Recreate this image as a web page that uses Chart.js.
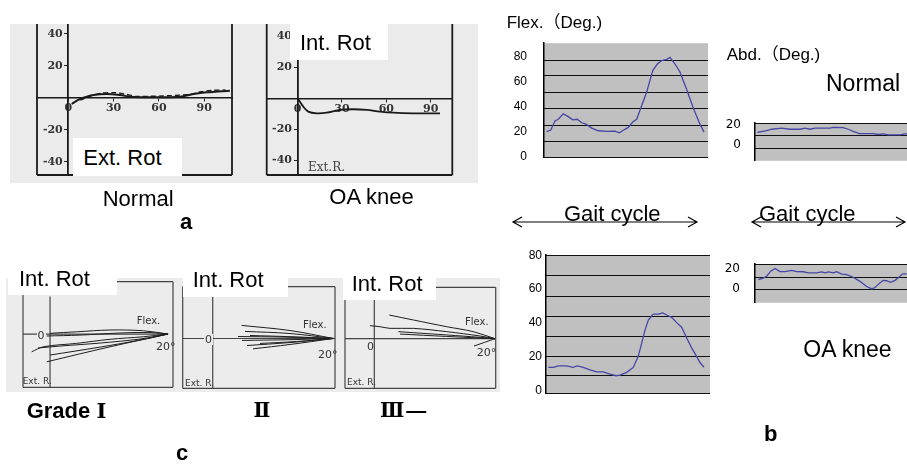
<!DOCTYPE html>
<html><head><meta charset="utf-8">
<script src="https://cdn.jsdelivr.net/npm/chart.js@4.4.1/dist/chart.umd.min.js"></script>
<style>
html,body{margin:0;padding:0;background:#fff;}
body{width:907px;height:465px;overflow:hidden;position:relative;font-family:"Liberation Sans",Arial,sans-serif;}
canvas{position:absolute;}
.t{position:absolute;white-space:nowrap;line-height:1;color:#000;font-size:22px;}
.b{font-weight:bold;}
.r{font-family:"DejaVu Serif","Noto Sans CJK JP",serif;font-weight:bold;}
.box{position:absolute;background:#fff;}
.s{position:absolute;white-space:nowrap;line-height:1;font-family:"DejaVu Sans",sans-serif;font-size:10px;color:#333;}
.z{background:#ececec;padding:0 1px;font-size:11px;}
</style></head><body>
<canvas id="aL" width="230" height="159" style="left:10px;top:24px"></canvas>
<canvas id="aR" width="238" height="159" style="left:240px;top:24px"></canvas>
<canvas id="c1" width="170" height="114" style="left:6px;top:278px"></canvas>
<canvas id="c2" width="162" height="114" style="left:176px;top:278px"></canvas>
<canvas id="c3" width="162" height="114" style="left:338px;top:278px"></canvas>
<canvas id="bTL" width="204" height="163" style="left:504px;top:19px"></canvas>
<canvas id="bTR" width="204" height="80" style="left:715px;top:102px"></canvas>
<canvas id="bBL" width="204" height="161" style="left:506px;top:244px"></canvas>
<canvas id="bBR" width="204" height="83" style="left:715px;top:242px"></canvas>

<svg style="position:absolute;left:0;top:0" width="907" height="465">
<g stroke="#000" stroke-width="1.2" fill="none">
<path d="M513 222H697 M522 217L513 222L522 227 M688 217L697 222L688 227"/>
<path d="M752 222H905 M761 217L752 222L761 227 M896 217L905 222L896 227"/>
</g></svg>

<!-- panel a -->
<div class="box" style="left:72.7px;top:138.3px;width:109px;height:37.7px"></div>
<div class="t" style="left:83.3px;top:147.4px">Ext. Rot</div>
<div class="box" style="left:290px;top:24px;width:98.3px;height:36px"></div>
<div class="t" style="left:300px;top:32.1px">Int. Rot</div>
<div class="s" style="left:308px;top:161px;font-family:'DejaVu Serif',serif;font-size:12px;color:#444">Ext.R.</div>
<div class="t" style="left:102.7px;top:188.1px">Normal</div>
<div class="t" style="left:329.3px;top:186.4px">OA knee</div>
<div class="t b" style="left:180px;top:211.4px">a</div>

<!-- panel c -->
<div class="box" style="left:8px;top:262px;width:109px;height:33px"></div>
<div class="t" style="left:19px;top:268.4px">Int. Rot</div>
<div class="box" style="left:182.7px;top:262px;width:105.3px;height:34.7px"></div>
<div class="t" style="left:192.7px;top:268.7px">Int. Rot</div>
<div class="box" style="left:342.7px;top:266px;width:93.3px;height:34px"></div>
<div class="t" style="left:351.7px;top:273.1px">Int. Rot</div>
<div class="s" style="left:136.7px;top:316px">Flex.</div>
<div class="s" style="left:156px;top:341px;font-size:11px">20°</div>
<div class="s" style="left:22.7px;top:377.2px;font-size:9px">Ext. R.</div>
<div class="s z" style="left:36.5px;top:329.7px">0</div>
<div class="s" style="left:303px;top:320px">Flex.</div>
<div class="s" style="left:318px;top:348.7px;font-size:11px">20°</div>
<div class="s" style="left:185px;top:379.2px;font-size:9px">Ext. R.</div>
<div class="s z" style="left:204px;top:333.7px">0</div>
<div class="s" style="left:465px;top:317px">Flex.</div>
<div class="s" style="left:476.7px;top:347.2px;font-size:11px">20°</div>
<div class="s" style="left:347px;top:378.2px;font-size:9px">Ext. R.</div>
<div class="s" style="left:367px;top:341.2px;font-size:11px">0</div>
<div class="t b" style="left:26.7px;top:399.7px">Grade <span class="r" style="font-size:21px">Ⅰ</span></div>
<div class="t r" style="left:242px;top:400px;width:40px;text-align:center;font-size:20px">Ⅱ</div>
<div class="t r" style="left:380px;top:400px;font-size:20px">Ⅲ<span style="font-family:'Liberation Sans',sans-serif;font-weight:bold;margin-left:2px">—</span></div>
<div class="t b" style="left:176px;top:442.4px">c</div>

<!-- panel b -->
<div class="box" style="left:540px;top:22px;width:67px;height:11px"></div>
<div class="t" style="left:506.7px;top:13.9px;font-size:17px;font-family:'Liberation Sans','Noto Sans CJK JP',sans-serif">Flex.（Deg.)</div>
<div class="t" style="left:726.7px;top:45.6px;font-size:17px;font-family:'Liberation Sans','Noto Sans CJK JP',sans-serif">Abd.（Deg.)</div>
<div class="t" style="left:826px;top:71.5px;font-size:23px">Normal</div>
<div class="t" style="left:564px;top:203.4px">Gait cycle</div>
<div class="t" style="left:759px;top:203.4px">Gait cycle</div>
<div class="t" style="left:803.3px;top:337.8px;font-size:23px">OA knee</div>
<div class="t b" style="left:764px;top:423.4px">b</div>

<script>
// ---------- Panel b : gait data (x = % of gait cycle) ----------
const flexNormalPct = [1.6,4.1,6.7,8.7,11.8,14.8,17.5,20.3,23.0,25.6,29.1,33.1,38.2,43.3,45.9,48.4,51.4,54.1,56.5,59.6,62.6,66.3,69.1,71.8,74.8,76.8,79.9,82.9,87.0,91.0,95.1,97.6];
const flexNormal    = [19.9,21.2,28.5,29.8,34.1,31.9,29.3,29.8,27.0,25.9,22.7,20.6,20.1,20.3,19.0,21.0,23.3,27.6,29.8,40.9,51.6,68.8,74.1,76.9,77.8,79.4,74.1,67.7,53.7,38.8,25.9,19.5];
const abdNormalPct  = [1.4,4.7,7.1,10.2,16.3,21.3,27.4,30.5,33.5,36.6,45.7,47.7,53.8,56.9,59.9,63.6,72.1,75.2,78.2,81.3,88.4,91.5,96];
const abdNormal     = [12.4,13.5,14.1,15.5,16.5,15.5,15.5,16.5,15.5,16.5,16.5,17.3,17.1,15.5,13.5,11.2,11.2,10.4,11.0,10.0,10.0,11.0,11.0];
const flexOAPct     = [1.4,4.5,7.5,12.6,16.3,19.1,22.7,26.8,30.9,34.9,39.0,42.7,45.1,49.2,53.2,56.3,58.4,60.4,62.4,65.4,68.5,71.2,73.6,76.6,79.7,82.7,85.8,88.8,91.9,93.9,96.3];
const flexOA        = [13.7,13.7,14.6,14.6,13.7,14.6,13.7,12.3,11.1,11.1,9.8,8.8,9.2,10.8,13.7,20.4,28.2,35.9,41.7,45.2,45.2,46.0,44.7,43.3,40.2,37.5,31.1,25.3,20.1,16.6,13.8];
const abdOAPct      = [2.0,4.7,7.1,9.6,12.2,15.2,18.3,22.4,25.4,29.5,32.5,37.6,40.7,42.7,44.7,47.7,49.8,52.9,55.9,59.9,64.0,68.1,71.2,73.2,75.8,78.2,80.3,82.7,85.4,88.4,90.1,92.5];
const abdOA         = [8.9,10.3,12.3,17.3,19.9,16.9,16.9,18.1,16.9,16.7,15.7,15.7,16.5,15.7,16.5,15.7,16.7,14.3,13.9,11.3,7.3,2.3,-0.1,1.3,5.3,8.3,7.9,6.3,8.3,12.3,14.7,14.7];
const flexTickLabels = [0,20,40,60,80];
const abdTickLabels  = [0,20];

// ---------- Panel a : rotation vs flexion ----------
const aFlexNormal  = [2.3,6.6,11.1,16.6,25.4,34.2,40.9,47.5,60.7,74,82.8,91.7,107];
const aRotNormal   = [-3.9,-1.4,0.3,1.7,2.3,1.7,0.6,0.3,0.3,0.6,2.3,3.4,4.4];
const aFlexNormal2 = [8,15,22,30,38,45,80,88,96,104];
const aRotNormal2  = [-1.5,1.2,2.8,3.2,2.2,0.8,2.0,3.8,4.6,4.8];
const aFlexOA      = [0.5,3.9,7.3,13,19.7,28.7,37.7,46.8,55.7,64.7,78.2,96.3];
const aRotOA       = [-0.6,-5.4,-8.6,-9.7,-9.3,-7.5,-7.1,-7.5,-8.6,-9.3,-9.7,-9.7];
const aXTicks = [0,30,60,90];
const aYTicks = [40,20,-20,-40];

// ---------- Panel c : rotation traces by grade (x = flexion deg) ----------
const gradeI_flex = [[120,97.4,69.2,41,20],[122.8,94.6,60.7,35.3,20],[135.5,125.7,97.4,69.2,41,20],[130.2,111.5,77.6,43.7,20],[122.8,69.2,20],[120,77.6,43.7,20]];
const gradeI_rot  = [[0.5,1.5,2.7,2.2,0],[-1.3,-0.7,0.7,1,0],[-11.8,-8.5,-6.2,-3.5,-1.8,0],[-9.3,-8,-6,-3.3,0],[-18.5,-8.5,0],[-14,-8.7,-4,0]];
const gradeII_flex = [[96,55.9,20],[93.2,55.9,20],[89.1,55.9,20],[95.7,55.9,20],[91.6,55.9,20],[86.6,55.9,20],[80.8,50,20],[99,60,20]];
const gradeII_rot  = [[8.7,5.3,0],[4.7,3.3,0],[2,1.2,0],[-1.3,-0.8,0],[-4.7,-2.7,0],[-6.9,-4,0],[-3.3,-2,0],[1.3,0.9,0]];
const gradeIII_flex = [[107.6,87.7,60,38,20],[123.6,115.3,107,87.7,60,32.4,20],[100.1,87.7,60,32.4,20],[98.7,60,20],[37.4,20]];
const gradeIII_rot  = [[15.8,12.5,8,4.7,0],[8.7,8,6.9,6.9,4.7,1.8,0],[4.7,4,2.5,0.9,0],[3.1,1.5,0],[-4.9,0]];

const el = id => document.getElementById(id);
const pts = (xs, ys) => xs.map((x, i) => ({x, y: ys[i]}));
const noPad = s => { s.paddingTop = 0; s.paddingBottom = 0; s.paddingLeft = 0; s.paddingRight = 0; };

const bgPlugin = { id: 'bg', beforeDraw(chart, args, o) {
  const c = chart.ctx, a = chart.chartArea; c.save();
  if (o.canvas) { c.fillStyle = o.canvas; c.fillRect(0, 0, chart.width, chart.height); }
  if (o.area) { c.fillStyle = o.area; c.fillRect(a.left, a.top, a.right - a.left, a.bottom - a.top); }
  c.restore(); } };

const framePlugin = { id: 'frame', beforeDatasetsDraw(chart, args, o) {
  const c = chart.ctx, a = chart.chartArea, xs = chart.scales.x, ys = chart.scales.y;
  c.save(); c.strokeStyle = o.color || '#222'; c.lineWidth = o.width || 1.5;
  (o.sides || []).forEach(sd => { c.beginPath();
    if (sd === 'l') { c.moveTo(a.left, a.top); c.lineTo(a.left, a.bottom); }
    if (sd === 'r') { c.moveTo(a.right, a.top); c.lineTo(a.right, a.bottom); }
    if (sd === 'b') { c.moveTo(a.left, a.bottom); c.lineTo(a.right, a.bottom); }
    if (sd === 't') { c.moveTo(a.left, a.top); c.lineTo(a.right, a.top); }
    c.stroke(); });
  if (o.vAxis) { const v = o.vAxis, px = xs.getPixelForValue(v.x); c.beginPath(); c.moveTo(px, ys.getPixelForValue(v.from)); c.lineTo(px, ys.getPixelForValue(v.to)); c.stroke(); }
  if (o.hAxis) { const h = o.hAxis, py = ys.getPixelForValue(h.y); c.beginPath(); c.moveTo(xs.getPixelForValue(h.from), py); c.lineTo(xs.getPixelForValue(h.to), py); c.stroke(); }
  c.restore(); } };

function gaitChart(id, xs, ys, o) {
  return new Chart(el(id), {
    type: 'line',
    data: { datasets: [{ data: pts(xs, ys), borderColor: '#4646a6', borderWidth: 1.3, pointRadius: 0, tension: 0, fill: false }] },
    options: {
      responsive: false, animation: false, events: [],
      layout: { padding: { left: 0, right: 0, top: 10, bottom: 10 } },
      plugins: { legend: { display: false }, tooltip: { enabled: false }, bg: { area: '#c0c0c0' } },
      scales: {
        x: { type: 'linear', min: 0, max: 100, display: false },
        y: { type: 'linear', position: 'left', min: o.min, max: o.max,
             afterBuildTicks: s => { s.ticks = o.labels.map(v => ({value: v})); },
             afterFit: s => { s.width = 40; },
             grid: { display: false, drawTicks: false },
             border: { display: true, color: '#000', width: 1.5 },
             ticks: { padding: o.pad, color: '#000', autoSkip: false, font: { family: o.font, size: 12 } } },
        g: { type: 'linear', position: 'right', min: o.min, max: o.max,
             afterBuildTicks: s => { s.ticks = o.grid.map(v => ({value: v})); },
             afterFit: s => { s.width = 0; },
             ticks: { display: false }, border: { display: false },
             grid: { color: '#111', lineWidth: 1, drawTicks: false } }
      }
    },
    plugins: [bgPlugin]
  });
}

gaitChart('bTL', flexNormalPct, flexNormal, { min: -1.1, max: 90.8, labels: flexTickLabels, grid: [-1.1, 11.8, 24.6, 38.1, 51.6, 64.9, 77.3], pad: 17, font: 'Liberation Sans' });
gaitChart('bTR', abdNormalPct, abdNormal, { min: -15.3, max: 21.4, labels: abdTickLabels, grid: [-3.5, 9.2, 21.4], pad: 14, font: 'DejaVu Sans' });
gaitChart('bBL', flexOAPct, flexOA, { min: -1.9, max: 80.1, labels: flexTickLabels, grid: [-1.9, 8.8, 20.4, 32.0, 43.7, 55.7, 67.9, 80.1], pad: 4, font: 'Liberation Sans' });
gaitChart('bBR', abdOAPct, abdOA, { min: -13.7, max: 24.1, labels: abdTickLabels, grid: [-1.1, 11.3, 24.1], pad: 15, font: 'DejaVu Sans' });

function scanA(id, series, o) {
  const tickFont = { family: 'DejaVu Serif', size: 11, weight: 'bold' };
  return new Chart(el(id), {
    type: 'line',
    data: { datasets: series.map(s => ({ data: pts(s.x, s.y), borderColor: '#1a1a1a', borderWidth: s.w, borderDash: s.dash || [], pointRadius: 0, tension: 0.3, fill: false })) },
    options: {
      responsive: false, animation: false, events: [],
      layout: { padding: o.pad },
      plugins: { legend: { display: false }, tooltip: { enabled: false }, bg: { canvas: '#ebebeb' }, frame: { sides: ['l', 'r', 'b'], color: '#1a1a1a', width: 1.8 } },
      scales: {
        x: { type: 'linear', position: { y: 0 }, min: o.xmin, max: o.xmax,
             afterBuildTicks: s => { s.ticks = aXTicks.map(v => ({value: v})); }, afterFit: noPad,
             grid: { drawOnChartArea: false, drawTicks: true, tickLength: 3, color: '#222' },
             border: { display: true, color: '#1a1a1a', width: 1.5 },
             ticks: { padding: 1, color: '#333', autoSkip: false, maxRotation: 0, font: tickFont } },
        y: { type: 'linear', position: { x: 0 }, min: o.ymin, max: o.ymax,
             afterBuildTicks: s => { s.ticks = aYTicks.map(v => ({value: v})); }, afterFit: noPad,
             grid: { drawOnChartArea: false, drawTicks: true, tickLength: 3, color: '#222' },
             border: { display: true, color: '#1a1a1a', width: 1.8 },
             ticks: { color: '#333', autoSkip: false, font: tickFont, callback: v => v + '\u2002' } }
      }
    },
    plugins: [bgPlugin, framePlugin]
  });
}

scanA('aL', [{ x: aFlexNormal, y: aRotNormal, w: 2 }, { x: aFlexNormal2, y: aRotNormal2, w: 1.4, dash: [5, 3] }],
  { pad: { left: 27, right: 8, top: 0, bottom: 8 }, xmin: -20.7, xmax: 108.4, ymin: -48.3, ymax: 46.1 });
scanA('aR', [{ x: aFlexOA, y: aRotOA, w: 1.8 }],
  { pad: { left: 26.7, right: 25.7, top: 0, bottom: 8 }, xmin: -20.8, xmax: 104.6, ymin: -49.5, ymax: 47.9 });

function scanC(id, xsArr, ysArr, o) {
  return new Chart(el(id), {
    type: 'line',
    data: { datasets: xsArr.map((xs, k) => ({ data: pts(xs, ysArr[k]), borderColor: '#1e1e1e', borderWidth: 1, pointRadius: 0, tension: 0.35, fill: false })) },
    options: {
      responsive: false, animation: false, events: [],
      layout: { padding: o.pad },
      plugins: { legend: { display: false }, tooltip: { enabled: false }, bg: { canvas: '#ececec' },
        frame: { sides: ['l', 'r', 'b', 't'], color: '#444', width: 1.2, vAxis: { x: 120, from: o.vTop, to: o.ymin }, hAxis: { y: 0, from: o.xmax, to: o.hEnd } } },
      scales: {
        x: { type: 'linear', reverse: true, min: o.xmin, max: o.xmax, display: false },
        y: { type: 'linear', min: o.ymin, max: o.ymax, display: false }
      }
    },
    plugins: [bgPlugin, framePlugin]
  });
}

scanC('c1', gradeI_flex, gradeI_rot, { pad: { left: 17, right: 3, top: 3.7, bottom: 4.7 }, xmin: 15.8, xmax: 142.9, ymin: -35.5, ymax: 34.9, vTop: 25, hEnd: 20 });
scanC('c2', gradeII_flex, gradeII_rot, { pad: { left: 6.7, right: 3, top: 8.7, bottom: 3.7 }, xmin: 18.6, xmax: 144.9, ymin: -33.2, ymax: 34.5, vTop: 28, hEnd: 18.6 });
scanC('c3', gradeIII_flex, gradeIII_rot, { pad: { left: 7, right: 4.3, top: 9.3, bottom: 3.7 }, xmin: 19.4, xmax: 144.3, ymin: -33.1, ymax: 34.3, vTop: 31, hEnd: 19.4 });
</script>
</body></html>
